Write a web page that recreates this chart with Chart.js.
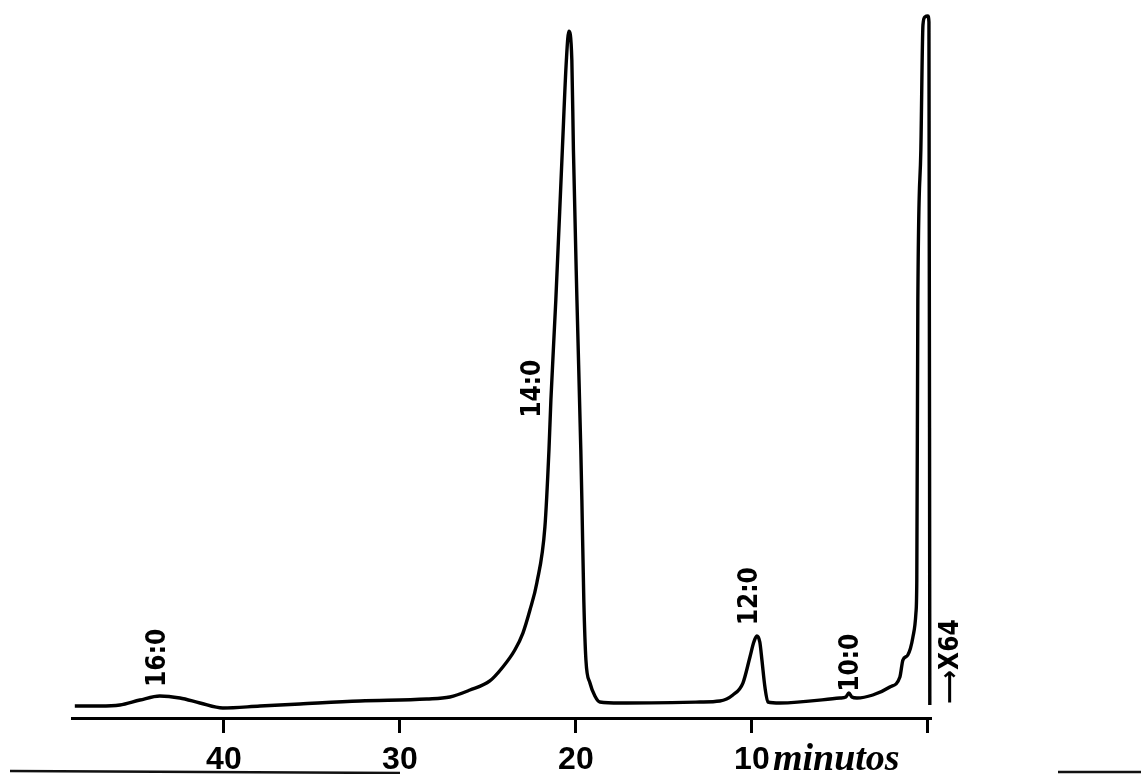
<!DOCTYPE html>
<html>
<head>
<meta charset="utf-8">
<script src="https://cdn.jsdelivr.net/npm/chart.js@4/dist/chart.umd.min.js"></script>
<style>
  body { margin: 0; background: #fff; }
  #cromatograma { display: block; }
</style>
</head>
<body>
<canvas id="cromatograma" width="1141" height="774"></canvas>
<script>
// tempo de retenção (min) e sinal do detector (unidades arbitrárias)
const tempo = [
    48.47, 47.05, 45.91, 44.77, 43.64, 42.5, 41.36, 40.06, 37.95, 35.68,
    32.27, 28.47, 27.16, 26.02, 24.89, 24.15, 23.47, 23.01, 22.61, 22.22,
    21.76, 21.53, 21.42, 21.14, 20.77, 20.54, 20.40, 20.23, 20.14, 19.94,
    19.72, 19.66, 19.55, 19.43, 19.20, 18.92, 18.64, 17.5, 12.95, 11.82,
    11.08, 10.51, 10.11, 9.89, 9.72, 9.55, 9.43, 9.26, 9.09, 8.41,
    5.0, 4.66, 4.49, 4.32, 4.03, 3.13, 2.16, 1.59, 1.42, 1.14,
    0.85, 0.68, 0.63, 0.57, 0.40, 0.28, 0.17, 0.0, -0.06, -0.11
];
const sinal = [
    1.69, 1.69, 1.84, 2.54, 3.11, 2.82, 2.12, 1.41, 1.69, 1.98,
    2.40, 2.68, 2.97, 3.95, 5.23, 7.20, 9.60, 12.0, 15.25, 19.07,
    26.98, 37.85, 44.92, 59.04, 80.23, 92.94, 97.0, 92.94, 80.23, 59.04,
    37.85, 30.79, 16.67, 8.19, 4.94, 3.11, 2.26, 2.12, 2.26, 2.40,
    3.25, 4.94, 8.62, 10.73, 11.58, 10.73, 8.19, 4.38, 2.26, 2.12,
    2.82, 2.97, 3.53, 2.97, 2.82, 3.25, 4.38, 5.79, 8.19, 8.90,
    11.44, 14.83, 19.49, 59.04, 80.23, 97.88, 99.0, 99.15, 98.3, 1.84
];

// marcas do eixo de tempo
const ticksTempo = [0, 10, 20, 30, 40];

// identificação dos picos (ácidos graxos)
const nomesPicos = ['16:0', '14:0', '12:0', '10:0'];
const tempoRotulos = [43.75, 22.44, 10.11, 4.35];
const alturaRotulos = [8.5, 46.5, 17.2, 7.8];

const fontePico = "bold 26px 'DejaVu Sans Condensed', 'Liberation Sans Narrow', sans-serif";

const pontos = tempo.map((t, i) => ({ x: t, y: sinal[i] }));

// rótulos girados dos picos + atenuação e a palavra "minutos"
const rotulosPlugin = {
    id: 'rotulos',
    afterDraw(chart) {
        const ctx = chart.ctx;
        const x = chart.scales.x;
        const y = chart.scales.y;

        ctx.save();
        ctx.fillStyle = '#000';
        ctx.font = fontePico;
        ctx.textAlign = 'center';
        ctx.textBaseline = 'middle';

        nomesPicos.forEach((nome, i) => {
            ctx.save();
            ctx.translate(x.getPixelForValue(tempoRotulos[i]), y.getPixelForValue(alturaRotulos[i]));
            ctx.rotate(-Math.PI / 2);
            ctx.fillText(nome, 0, 0);
            ctx.restore();
        });

        // atenuação do registrador
        ctx.save();
        ctx.translate(x.getPixelForValue(0) + 23, y.getPixelForValue(8.0));
        ctx.rotate(-Math.PI / 2);
        ctx.fillText('⟶X64', 0, 0);
        ctx.restore();

        // unidade junto ao "10"
        ctx.font = "bold italic 38px 'Liberation Serif', serif";
        ctx.textAlign = 'left';
        ctx.textBaseline = 'alphabetic';
        ctx.fillText('minutos', x.getPixelForValue(10) + 21, 770);

        // borda do papel
        ctx.strokeStyle = '#111';
        ctx.lineWidth = 2.5;
        ctx.beginPath();
        ctx.moveTo(10, 771);
        ctx.lineTo(400, 773);
        ctx.moveTo(1058, 772);
        ctx.lineTo(1141, 772);
        ctx.stroke();
        ctx.restore();
    }
};

new Chart(document.getElementById('cromatograma'), {
    type: 'line',
    data: {
        datasets: [{
            data: pontos,
            borderColor: '#000',
            borderWidth: 3.4,
            pointRadius: 0,
            fill: false,
            clip: 10,
            cubicInterpolationMode: 'monotone'
        }]
    },
    options: {
        responsive: false,
        animation: false,
        devicePixelRatio: 1,
        layout: { padding: { left: 72, right: 211, top: 10, bottom: 0 } },
        plugins: {
            legend: { display: false },
            tooltip: { enabled: false }
        },
        scales: {
            x: {
                type: 'linear',
                reverse: true,
                min: -0.12,
                max: 48.63,
                afterBuildTicks: (scale) => {
                    scale.ticks = ticksTempo.map(v => ({ value: v }));
                },
                afterFit: (scale) => { scale.height = 56; },
                border: { display: true, color: '#000', width: 3 },
                grid: {
                    drawOnChartArea: false,
                    drawTicks: true,
                    tickLength: 15,
                    color: '#000',
                    lineWidth: 3
                },
                ticks: {
                    autoSkip: false,
                    maxRotation: 0,
                    padding: 8,
                    color: '#000',
                    font: { family: "'Liberation Sans Narrow', sans-serif", size: 32, weight: 'bold' },
                    callback: (v) => (v === 0 ? '' : v)
                }
            },
            y: {
                display: false,
                min: 0,
                max: 100
            }
        }
    },
    plugins: [rotulosPlugin]
});
</script>
</body>
</html>
